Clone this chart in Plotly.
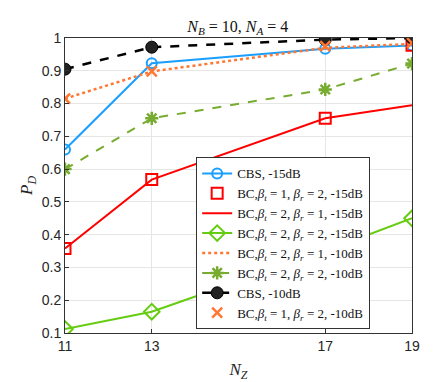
import plotly.graph_objects as go

nz = [11, 13, 17, 19]

cbs_15 = [0.66, 0.923, 0.967, 0.977]
bc12_15 = [0.358, 0.568, 0.755, 0.978]
bc21_15 = [0.358, 0.568, 0.755, 0.795]
bc22_15 = [0.112, 0.165, 0.35, 0.45]
bc21_10 = [0.815, 0.898, 0.97, 0.982]
bc22_10 = [0.60, 0.755, 0.843, 0.922]
cbs_10 = [0.905, 0.972, 0.995, 1.0]
bc12_10 = [0.815, 0.898, 0.975, 0.985]


def bc(bt, br, db):
    return (f"BC,<i>β</i><sub><i>t</i></sub> = {bt}, "
            f"<i>β</i><sub><i>r</i></sub> = {br}, {db}dB")


fig = go.Figure()

fig.add_trace(go.Scatter(x=nz, y=cbs_15, name="CBS, -15dB", mode="lines+markers",
                         line=dict(color="#1a9fff", width=2),
                         marker=dict(symbol="circle-open", size=10, line=dict(width=2))))
fig.add_trace(go.Scatter(x=nz, y=bc12_15, name=bc(1, 2, -15), mode="markers",
                         marker=dict(symbol="square-open", color="#ff0000", size=11,
                                     line=dict(width=2))))
fig.add_trace(go.Scatter(x=nz, y=bc21_15, name=bc(2, 1, -15), mode="lines",
                         line=dict(color="#ff0000", width=2)))
fig.add_trace(go.Scatter(x=nz, y=bc22_15, name=bc(2, 2, -15), mode="lines+markers",
                         line=dict(color="#66cc11", width=2),
                         marker=dict(symbol="diamond-open", size=12, line=dict(width=2))))
fig.add_trace(go.Scatter(x=nz, y=bc21_10, name=bc(2, 1, -10), mode="lines",
                         line=dict(color="#ff7733", width=2.5, dash="dot")))
fig.add_trace(go.Scatter(x=nz, y=bc22_10, name=bc(2, 2, -10), mode="lines+markers",
                         line=dict(color="#77ac30", width=2, dash="dash"),
                         marker=dict(symbol="asterisk-open", size=11, line=dict(width=2.5))))
fig.add_trace(go.Scatter(x=nz, y=cbs_10, name="CBS, -10dB", mode="lines+markers",
                         line=dict(color="#000000", width=2.5, dash="dash"),
                         marker=dict(symbol="circle", color="#222222", size=12,
                                     line=dict(color="#000000", width=1))))
fig.add_trace(go.Scatter(x=nz, y=bc12_10, name=bc(1, 2, -10), mode="markers",
                         marker=dict(symbol="x-thin-open", color="#ff7733", size=10,
                                     line=dict(width=2.5, color="#ff7733"))))

axis_common = dict(
    showline=True, linecolor="#333333", linewidth=1, mirror=True,
    showgrid=True, gridcolor="#e6e6e6", zeroline=False, automargin=False,
    ticks="inside", ticklen=4, tickcolor="#333333",
    tickfont=dict(family="Liberation Sans, Arial, sans-serif", size=14, color="#262626"),
)
title_font = dict(family="Liberation Serif, serif", size=17, color="#262626")

fig.update_xaxes(range=[11, 19], tickvals=nz, **axis_common,
                 title=dict(text="<i>N</i><sub><i>Z</i></sub>", font=title_font))
fig.update_yaxes(range=[0.1, 1], dtick=0.1, **axis_common,
                 title=dict(text="<i>P</i><sub><i>D</i></sub>", font=title_font, standoff=4))

# page body adds an 8px margin, so the figure is drawn 8px smaller
fig.update_layout(
    width=428, height=374,
    margin=dict(l=57, r=24, t=30, b=49),
    plot_bgcolor="white", paper_bgcolor="white",
    title=dict(text="<i>N</i><sub><i>B</i></sub> = 10, <i>N</i><sub><i>A</i></sub> = 4",
               x=0.537, xanchor="center", y=0.952, yanchor="middle",
               font=dict(family="Liberation Serif, serif", size=16, color="#111111")),
    legend=dict(x=0.378, xanchor="left", y=0.012, yanchor="bottom",
                bgcolor="white", bordercolor="#333333", borderwidth=1,
                font=dict(family="Liberation Serif, serif", size=13, color="#111111"),
                tracegroupgap=0, itemwidth=30),
    showlegend=True,
)

fig.write_html("out.html")
